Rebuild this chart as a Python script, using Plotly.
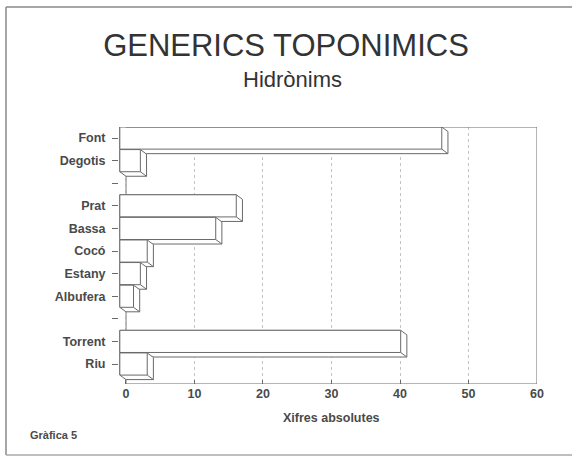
import plotly.graph_objects as go

# ---- data ----
categories = ["Font", "Degotis", "", "Prat", "Bassa", "Cocó", "Estany", "Albufera", "", "Torrent", "Riu"]
values = [47, 3, None, 17, 14, 4, 3, 2, None, 41, 4]
x_ticks = [0, 10, 20, 30, 40, 50, 60]

# ---- 3D styling parameters ----
DX = 0.9     # depth offset in x units
DY = 0.2     # depth offset in y units (downwards)
H = 0.49     # half bar height
LINE = "#6a6a6a"
TXT = "#4a4a4a"
FONT = "Liberation Sans, Arial, sans-serif"

n = len(categories)
ypos = [n - 1 - i for i in range(n)]  # Font on top
ytop = ypos[0] + H
ybot = -0.885

fig = go.Figure()

for c, v in zip(ypos, values):
    if v is None:
        continue
    sx = [-DX, v - DX, v, v, 0, -DX, -DX]
    sy = [c + H, c + H, c + H - DY, c - H - DY, c - H - DY, c - H, c + H]
    fig.add_trace(go.Scatter(x=sx, y=sy, mode="lines", fill="toself",
                             fillcolor="white", line=dict(color=LINE, width=1),
                             hoverinfo="skip", showlegend=False))
    fx = [-DX, v - DX, v - DX, -DX, -DX, None, v - DX, v]
    fy = [c - H, c - H, c + H, c + H, c - H, None, c - H, c - H - DY]
    fig.add_trace(go.Scatter(x=fx, y=fy, mode="lines", fill="toself",
                             fillcolor="white", line=dict(color=LINE, width=1),
                             hoverinfo="skip", showlegend=False))

PW, PH = 418, 257  # plot area size in px
def px_x(X):
    return (X - 119) / PW
def px_y(Y):
    return (384 - Y) / PH

shapes = [
    dict(type="line", xref="x", yref="y", x0=0, x1=60, y0=ybot, y1=ybot, line=dict(color=LINE, width=1)),
    dict(type="line", xref="x", yref="y", x0=60, x1=60, y0=ybot, y1=ytop, line=dict(color=LINE, width=1)),
    dict(type="line", xref="x", yref="y", x0=0, x1=60, y0=ytop, y1=ytop, line=dict(color=LINE, width=1)),
    dict(type="line", xref="x", yref="y", x0=0, x1=0, y0=ybot, y1=ytop, line=dict(color=LINE, width=1), layer="below"),
    # outer page frame
    dict(type="line", xref="paper", yref="paper", x0=px_x(6), x1=px_x(580), y0=px_y(7), y1=px_y(7), line=dict(color="#888", width=1.5)),
    dict(type="line", xref="paper", yref="paper", x0=px_x(6), x1=px_x(6), y0=px_y(7), y1=px_y(455), line=dict(color="#888", width=1.5)),
    dict(type="line", xref="paper", yref="paper", x0=px_x(6), x1=px_x(580), y0=px_y(455), y1=px_y(455), line=dict(color="#aaa", width=1.5)),
]

fig.update_layout(
    width=572, height=457,
    margin=dict(l=119, r=35, t=127, b=73),
    paper_bgcolor="white", plot_bgcolor="white",
    font=dict(family=FONT, color=TXT),
    title=dict(text="GENERICS TOPONIMICS", x=286/572, xanchor="center",
               y=1 - 45/457, yanchor="middle",
               font=dict(family=FONT, size=31, color="#333")),
    shapes=shapes,
    annotations=[
        dict(text="Hidrònims", xref="paper", yref="paper", x=px_x(292), y=px_y(79),
             xanchor="center", yanchor="middle", showarrow=False,
             font=dict(family=FONT, size=22, color="#333")),
        dict(text="Xifres absolutes", xref="x", yref="paper", x=30, y=px_y(418),
             xanchor="center", yanchor="middle", showarrow=False,
             font=dict(family=FONT, size=12.5, color=TXT, weight="bold")),
        dict(text="Gràfica 5", xref="paper", yref="paper", x=px_x(28), y=px_y(435),
             xanchor="left", yanchor="middle", showarrow=False,
             font=dict(family=FONT, size=11, color=TXT, weight="bold")),
    ],
    xaxis=dict(range=[-1.02, 60], tickvals=x_ticks, ticktext=[str(t) for t in x_ticks],
               showgrid=True, gridcolor="#c4c4c4", griddash="dot", gridwidth=1,
               zeroline=False, showline=False, ticks="inside", ticklen=4, tickcolor=LINE,
               tickfont=dict(size=12.5, color=TXT, weight="bold"), fixedrange=True,
               automargin=False),
    yaxis=dict(range=[ybot, ytop], tickvals=ypos, ticktext=categories,
               showgrid=False, zeroline=False, showline=False,
               ticks="outside", ticklen=6, tickcolor=LINE, ticklabelstandoff=4,
               tickfont=dict(size=12.5, color=TXT, weight="bold"), fixedrange=True,
               automargin=False),
)

fig.write_html("out.html", config={"displayModeBar": False},
               post_script="document.body.style.margin='0px';document.body.style.overflow='hidden';")
